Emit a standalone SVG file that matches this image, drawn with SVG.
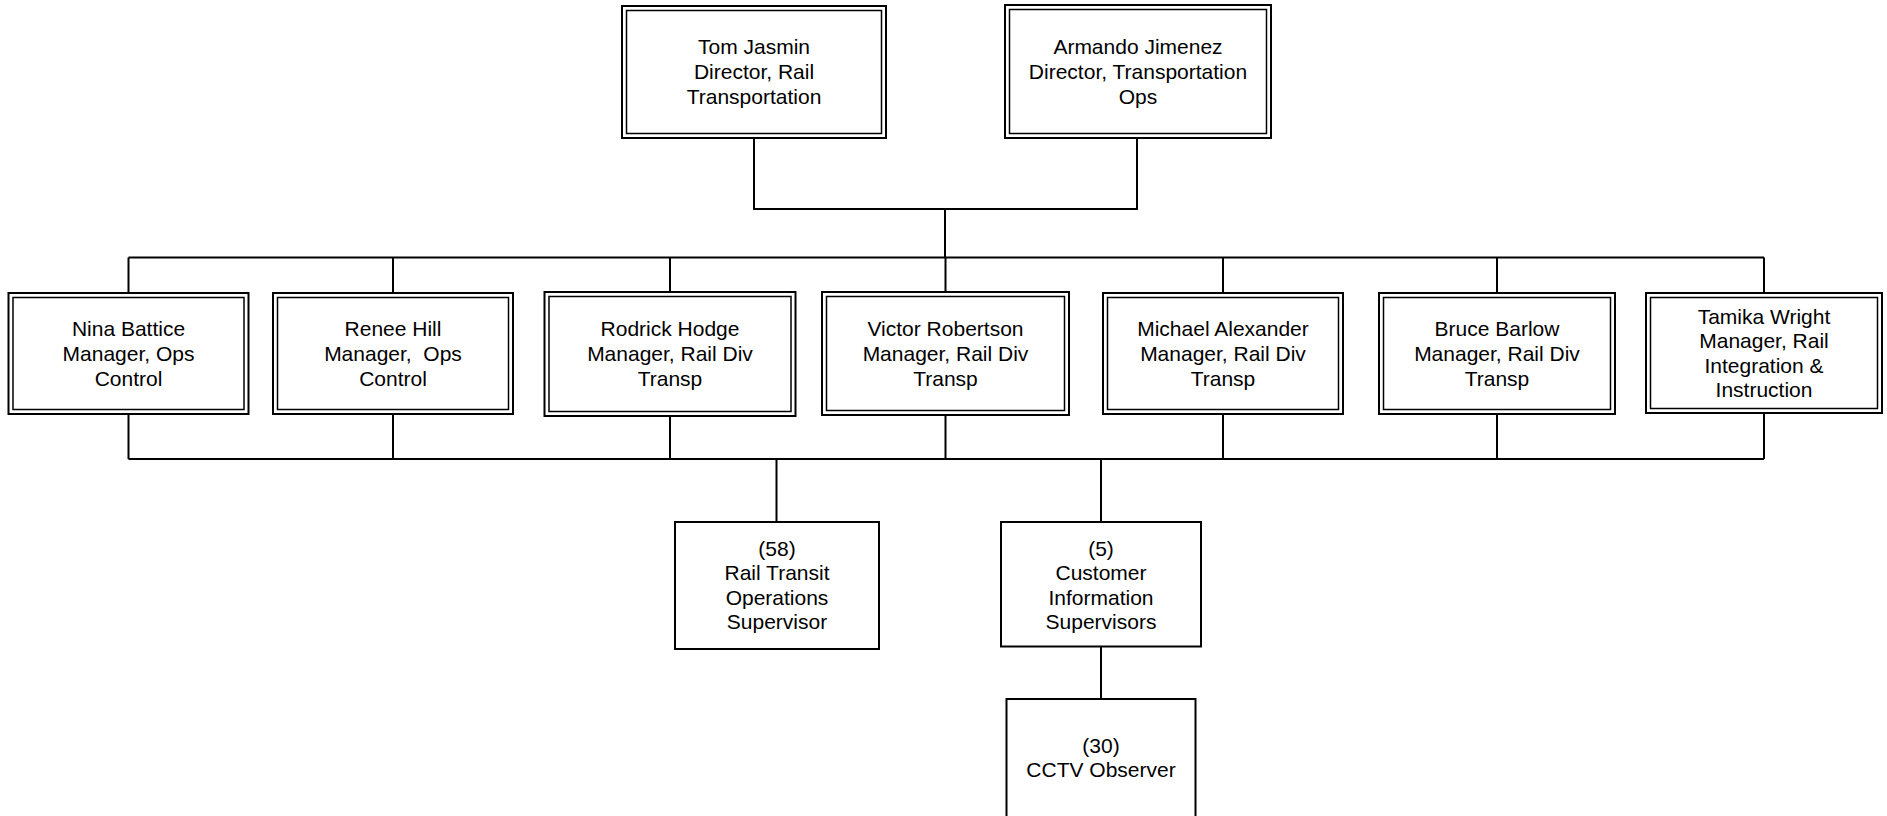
<svg xmlns="http://www.w3.org/2000/svg" width="1887" height="816" viewBox="0 0 1887 816">
<style>
.o{fill:#fff;stroke:#000;stroke-width:2}
.i{fill:none;stroke:#000;stroke-width:1.5}
.s{fill:#fff;stroke:#000;stroke-width:2}
.t{font-family:"Liberation Sans",Arial,sans-serif;font-size:21px;fill:#000;text-anchor:middle;white-space:pre}
.c{fill:none;stroke:#000;stroke-width:2}
</style>
<rect width="1887" height="816" fill="#fff"/>
<g id="connectors">
<path class="c" d="M754 138V209H1137V138M945 209V257.5M128.5 257.5H1764M128.5 257.5V293M393 257.5V293M670 257.5V292M945.5 257.5V292M1223 257.5V293M1497 257.5V293M1764 257.5V293"/>
<path class="c" d="M128.5 459H1764M128.5 414V459M393 414V459M670 416V459M945.5 415V459M1223 414V459M1497 414V459M1764 413V459"/>
<path class="c" d="M776.5 459V522M1101 459V522M1101 646.5V699"/>
</g>
<g id="tom">
<rect class="o" x="622" y="6" width="264" height="132"/>
<rect class="i" x="626.5" y="10.5" width="255" height="123"/>
<text class="t"><tspan x="754" y="54">Tom Jasmin</tspan><tspan x="754" y="79">Director, Rail</tspan><tspan x="754" y="104">Transportation</tspan></text>
</g>
<g id="armando">
<rect class="o" x="1005" y="5" width="266" height="133"/>
<rect class="i" x="1009.5" y="9.5" width="257" height="124"/>
<text class="t"><tspan x="1138" y="54">Armando Jimenez</tspan><tspan x="1138" y="79">Director, Transportation</tspan><tspan x="1138" y="104">Ops</tspan></text>
</g>
<g id="nina">
<rect class="o" x="8.5" y="293" width="240" height="121"/>
<rect class="i" x="13" y="297.5" width="231" height="112"/>
<text class="t"><tspan x="128.5" y="336">Nina Battice</tspan><tspan x="128.5" y="361">Manager, Ops</tspan><tspan x="128.5" y="386">Control</tspan></text>
</g>
<g id="renee">
<rect class="o" x="273" y="293" width="240" height="121"/>
<rect class="i" x="277.5" y="297.5" width="231" height="112"/>
<text class="t"><tspan x="393" y="336">Renee Hill</tspan><tspan x="393" y="361">Manager,  Ops</tspan><tspan x="393" y="386">Control</tspan></text>
</g>
<g id="rodrick">
<rect class="o" x="544.5" y="292" width="251" height="124"/>
<rect class="i" x="549" y="296.5" width="242" height="115"/>
<text class="t"><tspan x="670" y="336">Rodrick Hodge</tspan><tspan x="670" y="361">Manager, Rail Div</tspan><tspan x="670" y="386">Transp</tspan></text>
</g>
<g id="victor">
<rect class="o" x="822" y="292" width="247" height="123"/>
<rect class="i" x="826.5" y="296.5" width="238" height="114"/>
<text class="t"><tspan x="945.5" y="336">Victor Robertson</tspan><tspan x="945.5" y="361">Manager, Rail Div</tspan><tspan x="945.5" y="386">Transp</tspan></text>
</g>
<g id="michael">
<rect class="o" x="1103" y="293" width="240" height="121"/>
<rect class="i" x="1107.5" y="297.5" width="231" height="112"/>
<text class="t"><tspan x="1223" y="336">Michael Alexander</tspan><tspan x="1223" y="361">Manager, Rail Div</tspan><tspan x="1223" y="386">Transp</tspan></text>
</g>
<g id="bruce">
<rect class="o" x="1379" y="293" width="236" height="121"/>
<rect class="i" x="1383.5" y="297.5" width="227" height="112"/>
<text class="t"><tspan x="1497" y="336">Bruce Barlow</tspan><tspan x="1497" y="361">Manager, Rail Div</tspan><tspan x="1497" y="386">Transp</tspan></text>
</g>
<g id="tamika">
<rect class="o" x="1646" y="293" width="236" height="120"/>
<rect class="i" x="1650.5" y="297.5" width="227" height="111"/>
<text class="t"><tspan x="1764" y="323.5">Tamika Wright</tspan><tspan x="1764" y="348">Manager, Rail</tspan><tspan x="1764" y="372.5">Integration &amp;</tspan><tspan x="1764" y="397">Instruction</tspan></text>
</g>
<g id="rail-transit">
<rect class="s" x="675" y="522" width="204" height="127"/>
<text class="t"><tspan x="777" y="555.5">(58)</tspan><tspan x="777" y="580">Rail Transit</tspan><tspan x="777" y="604.5">Operations</tspan><tspan x="777" y="629">Supervisor</tspan></text>
</g>
<g id="customer-info">
<rect class="s" x="1001" y="522" width="200" height="124.5"/>
<text class="t"><tspan x="1101" y="555.5">(5)</tspan><tspan x="1101" y="580">Customer</tspan><tspan x="1101" y="604.5">Information</tspan><tspan x="1101" y="629">Supervisors</tspan></text>
</g>
<g id="cctv">
<rect class="s" x="1006.5" y="699" width="189" height="122"/>
<text class="t"><tspan x="1101" y="752.5">(30)</tspan><tspan x="1101" y="777">CCTV Observer</tspan></text>
</g>
</svg>
